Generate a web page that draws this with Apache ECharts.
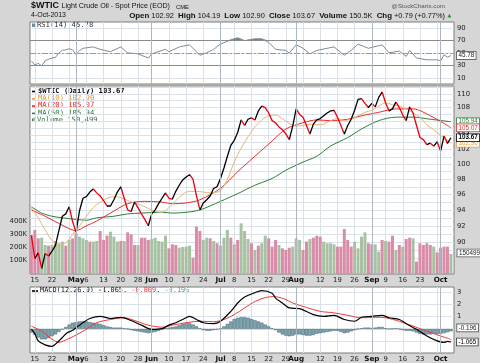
<!DOCTYPE html>
<html><head><meta charset="utf-8">
<script src="https://cdn.jsdelivr.net/npm/echarts@6/dist/echarts.min.js"></script>
<style>html,body{margin:0;padding:0;background:#d6d6d6}#c{width:480px;height:363px}</style>
</head><body><div id="c"></div>
<script>
// ---- data (index = trading day from 12-Apr-2013 to 4-Oct-2013) ----
const closes = [90.8,88.0,88.7,86.8,88.6,88.3,88.9,89.6,91.4,93.2,93.5,94.4,92.5,91.2,93.9,95.5,95.7,96.3,96.7,96.2,
95.8,95.2,94.5,94.5,95.3,96.3,97.0,95.5,94.0,93.8,95.0,94.3,93.5,92.8,92.0,93.5,94.0,94.8,95.5,96.2,
95.5,95.4,96.4,97.2,97.9,98.3,98.6,98.0,95.8,94.0,94.9,95.3,95.8,96.8,97.0,98.1,99.5,101.1,102.6,103.3,
104.4,106.2,105.4,106.3,106.5,106.2,107.5,108.2,108.0,107.2,106.1,105.8,105.2,104.8,104.2,103.4,105.3,107.8,107.0,106.6,
105.4,104.2,105.6,106.2,106.4,106.8,107.2,107.5,107.6,106.6,105.4,104.2,105.4,106.3,107.6,109.2,109.3,108.6,108.0,108.6,
108.1,109.5,110.3,108.7,107.5,107.8,108.8,108.0,106.9,106.1,108.1,107.2,105.4,103.7,103.4,102.7,102.9,102.5,103.1,101.8,
103.9,102.88,103.67];
const volumesK = [293,331,268,273,218,213,218,248,231,243,213,256,268,306,281,268,256,243,243,248,
323,256,288,318,281,243,248,248,313,298,218,218,273,273,256,263,273,248,243,288,
193,223,218,198,203,206,213,123,356,323,256,273,268,248,231,213,273,331,273,223,
256,381,323,263,231,181,213,231,288,268,206,256,218,193,181,198,206,268,256,181,
243,263,273,288,281,243,231,231,223,206,206,338,256,206,243,193,281,313,231,223,
223,168,256,248,243,288,181,218,206,263,273,268,93,231,218,231,218,206,163,198,
206,206,150.499];
const volumeUp = [0,0,0,1,1,0,1,1,1,1,0,1,0,0,1,1,1,0,1,1,0,0,0,1,1,1,0,1,0,0,0,1,0,0,0,1,1,1,1,1,
0,0,0,1,1,1,1,0,0,0,1,1,0,1,0,1,1,1,0,1,0,1,1,1,0,1,0,1,1,0,0,0,1,0,0,0,1,1,1,0,
0,1,0,0,0,1,1,1,1,0,0,0,0,0,1,1,1,1,0,0,1,1,0,1,0,0,1,0,1,0,0,1,0,0,0,0,0,1,0,0,0,0,1];
const ma10 = [[0,94.3],[2,93.0],[4,91.5],[6,90.2],[8,89.6],[10,89.9],[12,90.9],[14,92.0],[16,93.2],[18,94.3],[20,95.0],[22,95.5],[24,95.7],[26,95.6],[28,95.2],[30,94.9],[32,94.6],[34,94.2],[36,93.8],[38,93.7],[40,94.3],[42,95.2],[44,96.0],[46,96.4],[48,96.4],[50,96.3],[52,96.2],[54,96.3],[55,96.5],[57,98.0],[59,100.3],[61,102.2],[63,103.8],[65,105.2],[67,106.2],[69,106.8],[71,106.9],[73,106.4],[75,105.7],[77,105.3],[79,105.4],[81,105.6],[83,105.5],[85,105.6],[87,106.1],[89,106.4],[91,106.1],[93,106.3],[95,106.8],[97,107.3],[99,107.6],[101,108.2],[103,108.7],[105,108.4],[107,108.2],[109,107.8],[111,107.2],[113,106.6],[115,105.5],[117,104.8],[119,104.0],[121,103.3],[122,102.90]];
const ma20 = [[0,94.0],[4,93.2],[8,92.3],[13,91.4],[16,92.0],[19,92.6],[23,93.6],[28,94.8],[33,95.1],[38,95.0],[41,94.8],[45,94.9],[49,95.3],[55,96.8],[60,99.0],[65,101.1],[70,103.2],[74,104.9],[79,105.8],[83,106.2],[87,106.1],[92,106.3],[96,106.8],[101,107.3],[106,107.8],[111,107.8],[116,106.8],[121,105.4],[122,105.07]];
const ma50 = [[0,94.4],[3,93.6],[6,93.2],[9,93.0],[13,92.8],[16,92.7],[19,93.0],[24,93.2],[28,93.5],[32,93.6],[38,93.7],[41,93.6],[45,93.7],[49,94.0],[55,95.1],[60,96.1],[65,97.2],[70,98.1],[74,99.2],[79,100.3],[83,101.1],[87,102.5],[92,103.7],[96,104.9],[101,106.1],[106,106.6],[111,106.6],[116,106.3],[122,105.94]];
const rsi = [[0,37.3],[1,30.5],[2,33.4],[3,29.3],[4,37.3],[5,40],[6,41.9],[7,42.9],[8,50],[9,54.5],[10,55],[11,57],[12,55],[13,47.5],[14,54],[15,57.6],[18,59.8],[20,55.9],[23,52],[26,59.8],[28,50.3],[31,48.6],[34,41.9],[35,48.6],[39,55.9],[40,52],[43,59.8],[46,63.2],[49,46.3],[51,50.3],[53,55.9],[55,64.4],[58,71.2],[60,74.6],[62,70],[65,72.9],[67,72.9],[69,67.3],[71,55.9],[74,54.2],[75,50],[77,63.2],[79,57.6],[81,48.6],[83,54.2],[88,59.8],[91,46.3],[93,54.2],[95,64.4],[98,57.6],[102,63.2],[104,50.3],[107,53.1],[109,44.6],[110,54.2],[112,41.9],[115,39],[118,39],[119,37.3],[120,47],[121,43.5],[122,45.78]];
const macd = [[0,-0.04],[1,-0.38],[2,-0.98],[4,-1.3],[6,-1.42],[7,-1.24],[9,-0.7],[10.5,-0.3],[12,-0.12],[13,0.1],[15,0.5],[17,0.84],[20,1.02],[23,0.84],[26,0.94],[29,0.68],[32,0.3],[35,-0.04],[38,0.02],[40,0.3],[42,0.5],[45,0.9],[46,1.02],[48,0.76],[50,0.5],[53,0.42],[55,0.62],[58,1.42],[60,2.1],[62,2.58],[65,2.94],[67,3.1],[70,2.9],[71,2.5],[73,2.1],[75,1.7],[78,1.64],[82,1.16],[85,1.02],[88,1.1],[91,0.76],[94,0.62],[96,0.94],[99,1.02],[102,1.1],[104,0.9],[107,0.76],[109,0.42],[112,-0.04],[115,-0.58],[118,-0.98],[120,-1.1],[121,-1.02],[122,-1.065]];
const signal = [[0,0.22],[3,-0.18],[6,-0.84],[8,-1.1],[10.5,-0.84],[13,-0.5],[16,-0.04],[19,0.5],[23,0.76],[27,0.9],[30,0.68],[34,0.3],[38,0.14],[41,0.3],[45,0.5],[49,0.62],[53,0.58],[56,0.76],[59,1.16],[62,1.7],[65,2.22],[68,2.54],[70.5,2.62],[73.5,2.44],[76,2.1],[80,1.74],[84,1.42],[88,1.3],[92,1.1],[96,0.9],[100,0.94],[103,0.9],[107,0.62],[111,0.22],[115,-0.18],[119,-0.58],[121,-0.76],[122,-0.869]];
const hist = [-0.3,-0.5,-0.7,-0.85,-0.85,-0.75,-0.6,-0.45,-0.25,-0.05,0.15,0.35,0.5,0.55,0.6,0.62,0.6,0.55,0.5,0.45,
0.4,0.3,0.2,0.15,0.1,0.1,0.1,0.05,0.0,-0.1,-0.15,-0.2,-0.25,-0.3,-0.35,-0.3,-0.25,-0.15,-0.05,0.05,
0.1,0.15,0.2,0.3,0.4,0.45,0.45,0.35,0.2,0.05,-0.1,-0.15,-0.15,-0.1,-0.05,0.05,0.2,0.4,0.6,0.8,
0.9,0.95,0.95,0.9,0.8,0.7,0.6,0.5,0.35,0.2,0.05,-0.1,-0.3,-0.45,-0.55,-0.6,-0.55,-0.45,-0.45,-0.5,
-0.55,-0.55,-0.5,-0.4,-0.35,-0.3,-0.25,-0.2,-0.15,-0.15,-0.25,-0.35,-0.3,-0.2,-0.1,0.0,0.05,0.1,0.1,0.08,
0.1,0.15,0.15,0.05,0.0,0.02,0.05,0.0,-0.1,-0.15,-0.15,-0.2,-0.3,-0.4,-0.45,-0.45,-0.45,-0.4,-0.4,-0.4,
-0.35,-0.27,-0.196];
// axis ticks / labels
const weekTicks = [1,6,11,16,21,26,31,35,40,45,50,55,59,64,69,74,79,84,89,94,99,103,108,113,118];
const monthTicks = [13,35,55,77,99,119];
const labelIdx = [1,6,13,16,21,26,31,35,40,45,50,55,59,64,69,74,77,84,89,94,99,103,108,113,119];
const labelTxt = ['15','22','May','6','13','20','28','Jun','10','17','24','Jul','8','15','22','29','Aug','12','19','26','Sep','9','16','23','Oct'];
const monthNames = ['May','Jun','Jul','Aug','Sep','Oct'];
const priceLabels = [90,92,94,96,98,100,102,104,106,108,110];
const priceGrid = [87,88,89,90,91,92,93,94,95,96,97,98,99,100,101,102,103,104,105,106,107,108,109,110,111];
const volLabels = [100000,200000,300000,400000];
const rsiLabels = [10,30,50,70,90];
const macdLabels = [1,2,3];
const macdGrid = [-1,0,1,2,3];

// ---- chart ----
const FONT = 'DejaVu Sans';
const X0 = -0.4, X1 = 122.9;
const vTicks = Array.from(new Set(weekTicks.concat(monthTicks))).sort((a,b)=>a-b);
const lblMap = {}; labelIdx.forEach((v,k)=>{lblMap[v]=labelTxt[k];});
const GRIDC = '#dbe1e8';
function xAx(g, show){
  return {type:'value', gridIndex:g, min:X0, max:X1,
    axisLine:{show:false}, axisTick:{show:false, customValues:vTicks},
    splitLine:{show:true, lineStyle:{color:GRIDC, width:1}},
    axisLabel:{show:show, customValues:labelIdx, margin:3, fontSize:6.8, fontFamily:FONT, color:'#222',
      formatter:v=>{const t=lblMap[Math.round(v)]||''; return monthNames.indexOf(t)>=0?'{b|'+t+'}':t;},
      rich:{b:{fontWeight:'bold', fontSize:7.2, fontFamily:FONT, color:'#111'}}}};
}
function yAx(g, o){
  return Object.assign({type:'value', gridIndex:g, position:'right', axisLine:{show:false},
    splitLine:{show:true, lineStyle:{color:GRIDC, width:1}}}, o);
}
const ylab = (vals, extra) => Object.assign({customValues:vals, margin:3, fontSize:6.8, fontFamily:FONT, color:'#222'}, extra||{});
const TAGFONT = 'Liberation Sans';
function tag(text, color, border, bold){
  return {show:true, formatter:text, color:color, fontSize:6.3, fontFamily:TAGFONT, fontWeight:bold?'bold':'normal',
    backgroundColor:'#fff', borderColor:border, borderWidth:0.8, padding:[1,1.5,0,1.5], distance:6};
}
const mlMonths = {silent:true, symbol:'none', label:{show:false}, lineStyle:{color:'#aeb6bf', type:'solid', width:1}, data:monthTicks.map(m=>({xAxis:m})), animation:false};

const pieces = [];
for (let k=0;k<closes.length-1;k++) pieces.push({gt:k, lte:k+1, color: closes[k+1]>=closes[k] ? '#000000' : '#e8000b'});

function lastTag(text){
  return {show:true, position:[8,-1], formatter:text, color:'#222', fontSize:6.3, fontFamily:TAGFONT,
    backgroundColor:'#fff', borderColor:'#555', borderWidth:0.8, padding:[1,1.5,0,1.5], verticalAlign:'middle'};
}
const volData = volumesK.map((v,i)=>{
  const it = {value:[i, v*1000], itemStyle:{color: volumeUp[i] ? '#a9c1a3' : '#d98ca9'}};
  if (i===volumesK.length-1) it.label = lastTag('150499');
  return it;
});
const histData = hist.map((v,i)=>{
  const it = {value:[i,v]};
  if (i===hist.length-1) it.label = lastTag('-0.196');
  return it;
});

const M = '"DejaVu Sans Mono"';
const chart = echarts.init(document.getElementById('c'));
const option = {
  animation:false,
  backgroundColor:'#d6d6d6',
  grid:[
    {left:30, right:26, top:22, height:62, show:true, backgroundColor:'#fff', borderColor:'#7d7d7d', borderWidth:1},
    {left:30, right:26, top:86, height:188, show:true, backgroundColor:'#fff', borderColor:'#7d7d7d', borderWidth:1},
    {left:30, right:26, top:287, height:67, show:true, backgroundColor:'#fff', borderColor:'#7d7d7d', borderWidth:1}
  ],
  xAxis:[xAx(0,false), xAx(1,true), xAx(2,true)],
  yAxis:[
    yAx(0,{min:0, max:100, axisTick:{show:false, customValues:rsiLabels}, axisLabel:ylab(rsiLabels)}),
    yAx(1,{type:'log', logBase:10, min:86.18, max:111.2, axisTick:{show:false, customValues:priceGrid}, axisLabel:ylab(priceLabels)}),
    yAx(1,{position:'left', min:0, max:1413000, splitLine:{show:false}, axisTick:{show:false, customValues:volLabels}, axisLabel:ylab(volLabels,{formatter:v=>(v/1000)+'K'})}),
    yAx(2,{min:-1.96, max:3.4, axisTick:{show:false, customValues:macdGrid}, axisLabel:ylab(macdLabels)})
  ],
  visualMap:[{type:'piecewise', show:false, seriesIndex:6, dimension:0, pieces:pieces, outOfRange:{color:'#000'}}],
  series:[
    {type:'line', xAxisIndex:0, yAxisIndex:0, data:rsi.map(p=>[p[0], Math.max(p[1],70)]), symbol:'none', lineStyle:{width:0}, areaStyle:{origin:70, color:'#5d8e96', opacity:1}, silent:true, z:2},
    {type:'line', xAxisIndex:0, yAxisIndex:0, data:rsi, symbol:'none', lineStyle:{color:'#7e8d9c', width:1}, z:3,
      endLabel:tag('45.78','#222','#555'),
      markLine:{silent:true, symbol:'none', label:{show:false}, animation:false, data:[
        {yAxis:70, lineStyle:{color:'#8a8a8a', width:1, type:'solid'}},
        {yAxis:30, lineStyle:{color:'#8a8a8a', width:1, type:'solid'}},
        {yAxis:50, lineStyle:{color:'#9a9a9a', width:1, type:[6,2,2,2]}}
      ].concat(monthTicks.map(m=>({xAxis:m, lineStyle:{color:'#aeb6bf', width:1, type:'solid'}})))}},
    {type:'bar', xAxisIndex:1, yAxisIndex:2, data:volData, barWidth:3.0, z:1, markLine:mlMonths},
    {type:'line', xAxisIndex:1, yAxisIndex:1, data:ma50, symbol:'none', smooth:0.3, lineStyle:{color:'#2f7f34', width:1}, z:3, endLabel:tag('105.94','#2f7f34','#2f7f34')},
    {type:'line', xAxisIndex:1, yAxisIndex:1, data:ma20, symbol:'none', smooth:0.3, lineStyle:{color:'#ea2a2f', width:1}, z:3, endLabel:tag('105.07','#ea2a2f','#ea2a2f')},
    {type:'line', xAxisIndex:1, yAxisIndex:1, data:ma10, symbol:'none', smooth:0.3, lineStyle:{color:'#e6b774', width:1}, z:3, endLabel:tag('102.90','#e69a30','#e6a050')},
    {type:'line', xAxisIndex:1, yAxisIndex:1, data:closes.map((v,i)=>[i,v]), symbol:'none', lineStyle:{width:1.3}, z:4, endLabel:tag('103.67','#000','#000',true)},
    {type:'bar', xAxisIndex:2, yAxisIndex:3, data:histData, barWidth:3.4, itemStyle:{color:'#7fa7b2', borderColor:'#43636f', borderWidth:0.5}, z:1, markLine:mlMonths},
    {type:'line', xAxisIndex:2, yAxisIndex:3, data:signal, symbol:'none', smooth:0.3, lineStyle:{color:'#ec3a3f', width:1}, z:3},
    {type:'line', xAxisIndex:2, yAxisIndex:3, data:macd, symbol:'none', smooth:0.3, lineStyle:{color:'#000', width:1.2}, z:4, endLabel:tag('-1.065','#000','#333')}
  ],
  graphic:[
    {type:'text', left:31, top:1.5, style:{text:'$WTIC', font:'bold 9px "Liberation Sans"', fill:'#111'}},
    {type:'text', left:61.5, top:3, style:{text:'Light Crude Oil - Spot Price (EOD)', font:'7.1px "Liberation Sans"', fill:'#111'}},
    {type:'text', left:176, top:4.3, style:{text:'CME', font:'5.8px "Liberation Sans"', fill:'#111'}},
    {type:'text', right:35, top:3.5, style:{text:'@StockCharts.com', font:'6.2px "Liberation Sans"', fill:'#555'}},
    {type:'text', left:31, top:12, style:{text:'4-Oct-2013', font:'7px "Liberation Sans"', fill:'#111'}},
    {type:'text', right:35, top:12, style:{text:'{b|Open} 102.92  {b|High} 104.19  {b|Low} 102.90  {b|Close} 103.67  {b|Volume} 150.5K  {b|Chg} +0.79 (+0.77%)',
      font:'7.4px "Liberation Sans"', fill:'#111', rich:{b:{font:'bold 7.9px "Liberation Sans"', fill:'#111'}}}},
    {type:'text', left:447.5, top:13.5, style:{text:'▲', font:'5px "DejaVu Sans"', fill:'#3a8a3a'}},
    // RSI label
    {type:'rect', shape:{x:32, y:23.5, width:3.5, height:3.5}, style:{fill:'#6b8fa0'}},
    {type:'text', left:37, top:21.3, style:{text:'RSI(14) 45.78', font:'7.2px '+M, fill:'#333'}},
    // Main legend
    {type:'line', shape:{x1:32, y1:91.5, x2:36, y2:91.5}, style:{stroke:'#000', lineWidth:1.6}},
    {type:'text', left:38, top:87.5, style:{text:'$WTIC (Daily) 103.67', font:'bold 7.2px '+M, fill:'#111'}},
    {type:'line', shape:{x1:32, y1:98.8, x2:36, y2:98.8}, style:{stroke:'#e6a050', lineWidth:1.6}},
    {type:'text', left:38, top:94.8, style:{text:'MA(10) 102.90', font:'7.2px '+M, fill:'#e69a30'}},
    {type:'line', shape:{x1:32, y1:106.1, x2:36, y2:106.1}, style:{stroke:'#ea2a2f', lineWidth:1.6}},
    {type:'text', left:38, top:102.1, style:{text:'MA(20) 105.07', font:'7.2px '+M, fill:'#ea2a2f'}},
    {type:'line', shape:{x1:32, y1:113.4, x2:36, y2:113.4}, style:{stroke:'#2f7f34', lineWidth:1.6}},
    {type:'text', left:38, top:109.4, style:{text:'MA(50) 105.94', font:'7.2px '+M, fill:'#2f7f34'}},
    {type:'rect', shape:{x:32, y:118.5, width:1, height:3.5}, style:{fill:'#4a7a4a'}},
    {type:'rect', shape:{x:33.5, y:117.5, width:1, height:4.5}, style:{fill:'#4a7a4a'}},
    {type:'rect', shape:{x:35, y:119, width:1, height:3}, style:{fill:'#4a7a4a'}},
    {type:'text', left:37, top:116.7, style:{text:'Volume 150,499', font:'7.2px '+M, fill:'#3f6f45'}},
    // MACD legend
    {type:'line', shape:{x1:32, y1:291, x2:38, y2:291}, style:{stroke:'#000', lineWidth:1.6}},
    {type:'text', left:40, top:287, style:{text:'MACD(12,26,9) -1.065, {r|-0.869}, {g|-0.196}', font:'6.9px '+M, fill:'#111',
      rich:{r:{font:'6.9px '+M, fill:'#e83a3f'}, g:{font:'6.9px '+M, fill:'#5a9a8a'}}}}
  ]
};
chart.setOption(option);
</script></body></html>
